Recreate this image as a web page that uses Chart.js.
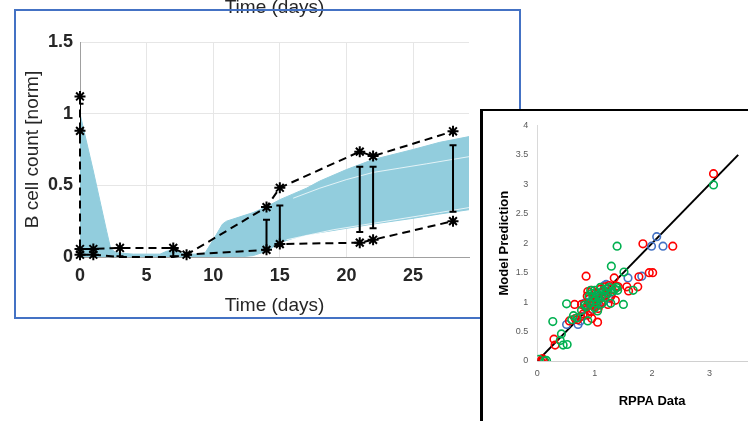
<!DOCTYPE html>
<html>
<head>
<meta charset="utf-8">
<script src="https://cdn.jsdelivr.net/npm/chart.js@4.4.0/dist/chart.umd.min.js"></script>
<style>
  html, body { margin: 0; padding: 0; background: #fff; }
  body { width: 748px; height: 421px; position: relative; overflow: hidden; font-family: "Liberation Sans", Arial, sans-serif; }
  #timeChart { position: absolute; left: 0; top: -10px; }
  #timeFrame { position: absolute; left: 14px; top: 9px; width: 503px; height: 306px; border: 2px solid #4472c4; pointer-events: none; }
  #rppaWrap { position: absolute; left: 480px; top: 109px; width: 265px; height: 310px; border-left: 3px solid #000; border-top: 2px solid #000; background: #fff; overflow: hidden; }
  #rppaChart { position: absolute; left: 0; top: 0; }
</style>
</head>
<body>
<canvas id="timeChart" width="520" height="340"></canvas>
<div id="timeFrame"></div>
<div id="rppaWrap"><canvas id="rppaChart" width="310" height="310"></canvas></div>
<script>
// ---- B cell time course ----
// simulated trajectories, drawn as a band between their envelopes
const bandDays = [0, 1, 2, 2.3, 2.7, 4, 5, 6, 6.5, 7, 7.5, 8, 9, 9.4, 10, 10.7, 11, 12, 13, 14, 15, 16, 17, 18, 20, 22, 25, 27, 29.2];
const bandHigh = [1.0, 0.6, 0.18, 0.06, 0.03, 0.02, 0.02, 0.02, 0.04, 0.05, 0.03, 0.02, 0.02, 0.03, 0.12, 0.23, 0.25, 0.28, 0.31, 0.35, 0.40, 0.44, 0.48, 0.53, 0.61, 0.68, 0.75, 0.80, 0.84];
const bandLow = [0, 0, 0, 0, 0, 0, 0, 0, 0, 0, 0, 0, 0, 0, 0, 0, 0, 0, 0.01, 0.04, 0.10, 0.13, 0.155, 0.17, 0.20, 0.23, 0.27, 0.30, 0.33];

// gaps between trajectories
const gapUpperDays = [16, 18, 20, 22, 24, 26, 29.2];
const gapUpper = [0.41, 0.48, 0.54, 0.59, 0.62, 0.65, 0.70];
const gapLowerDays = [15.5, 17, 19, 21, 23, 25, 27, 29.2];
const gapLower = [0.12, 0.15, 0.19, 0.22, 0.25, 0.28, 0.31, 0.345];

// measured max / min
const maxDays = [0, 0, 1, 3, 7, 8, 14, 15, 21, 22, 28];
const maxVals = [1.12, 0.056, 0.056, 0.063, 0.063, 0.016, 0.348, 0.483, 0.735, 0.704, 0.877];
const minDays = [0, 1, 3, 7, 8, 14, 15, 21, 22, 28];
const minVals = [0.016, 0.016, 0.0, 0.0, 0.016, 0.05, 0.09, 0.10, 0.12, 0.25];

// individual measurements
const starDays = [0, 0, 0, 0, 1, 1, 3, 7, 8, 14, 14, 15, 15, 21, 21, 22, 22, 28, 28];
const starVals = [1.12, 0.88, 0.056, 0.016, 0.056, 0.016, 0.063, 0.063, 0.016, 0.348, 0.05, 0.483, 0.09, 0.735, 0.10, 0.704, 0.12, 0.877, 0.25];

// error bars
const errDays = [0, 3, 7, 14, 15, 21, 22, 28];
const errLow = [0.89, 0.005, 0.005, 0.05, 0.08, 0.175, 0.20, 0.315];
const errHigh = [1.07, 0.063, 0.063, 0.26, 0.36, 0.63, 0.63, 0.78];

// ---- RPPA vs model ----
const redRppa = [3.07, 1.84, 2.36, 0.85, 1.34, 1.77, 1.95, 2.01, 1.75, 1.56, 1.41, 1.59, 1.36, 1.23, 1.05, 0.65, 0.77, 0.56, 0.66, 0.29, 0.31, 0.09, 0.06, 0.11,
  0.88, 0.95, 1.02, 1.10, 1.18, 1.25, 1.30, 0.90, 0.98, 1.05, 1.12, 1.20, 0.85, 0.92, 1.00, 1.08, 0.80, 0.88, 0.75, 0.70, 0.95, 1.15, 0.82, 1.28, 0.93, 1.38, 0.87, 1.06, 0.94];
const redModel = [3.18, 1.99, 1.95, 1.44, 1.41, 1.43, 1.50, 1.50, 1.26, 1.26, 1.26, 1.19, 1.03, 0.96, 0.66, 0.96, 0.96, 0.68, 0.72, 0.37, 0.27, 0.04, 0.0, 0.01,
  1.18, 1.20, 1.15, 1.22, 1.26, 1.28, 1.22, 1.05, 1.00, 1.05, 1.08, 1.12, 0.90, 0.84, 0.92, 0.95, 0.80, 0.78, 0.75, 0.70, 0.72, 1.18, 0.95, 1.10, 0.95, 1.27, 1.10, 0.89, 0.84];
const greenRppa = [3.07, 1.39, 1.29, 1.51, 1.67, 1.50, 0.51, 0.27, 0.88, 0.42, 0.40, 0.45, 0.52, 0.03, 0.13, 0.16, 0.60, 0.63, 0.69, 0.77, 0.83,
  0.90, 0.95, 1.00, 1.05, 1.10, 1.15, 1.20, 1.25, 1.30, 1.35, 0.92, 0.98, 1.03, 1.08, 1.12, 1.18, 0.85, 1.00, 1.05, 1.28, 1.38, 1.40, 0.97, 1.22, 1.12, 0.93];
const greenModel = [2.99, 1.95, 1.61, 1.51, 1.20, 0.96, 0.97, 0.67, 0.68, 0.46, 0.35, 0.27, 0.28, 0.03, 0.0, 0.01, 0.70, 0.77, 0.73, 0.86, 0.95,
  1.10, 1.15, 1.20, 1.12, 1.25, 1.20, 1.22, 1.25, 1.18, 1.22, 0.98, 1.02, 0.98, 1.05, 1.10, 1.08, 0.92, 0.90, 0.85, 0.98, 1.25, 1.20, 1.08, 1.15, 0.97, 1.20];
const blueRppa = [2.08, 1.99, 2.19, 1.58, 1.82, 0.51, 0.71, 1.20, 1.26, 0.80, 0.90, 1.00, 1.10, 0.95, 1.15, 1.05, 0.75, 1.30, 0.82, 1.17];
const blueModel = [2.11, 1.95, 1.95, 1.41, 1.44, 0.62, 0.62, 1.30, 1.06, 0.76, 1.00, 1.10, 1.15, 0.88, 1.00, 0.95, 0.68, 1.15, 0.98, 1.28];
const fitX = [0, 3.5];
const fitY = [0, 3.5];

const pts = (xs, ys) => xs.map((v, i) => ({ x: v, y: ys[i] }));
const plainTick = (v) => String(v);

const BAND = '#92cddd';
const INK = '#262626';

const errorBars = {
    id: 'errorBars',
    afterDatasetsDraw(chart) {
        const { ctx, chartArea, scales: { x, y } } = chart;
        ctx.save();
        ctx.beginPath();
        ctx.rect(chartArea.left, chartArea.top, chartArea.width, chartArea.height);
        ctx.clip();
        ctx.strokeStyle = '#000';
        ctx.lineWidth = 2;
        errDays.forEach((d, i) => {
            const px = x.getPixelForValue(d);
            const top = y.getPixelForValue(errHigh[i]);
            const bot = y.getPixelForValue(errLow[i]);
            ctx.beginPath();
            ctx.moveTo(px, top); ctx.lineTo(px, bot);
            ctx.moveTo(px - 3.5, top); ctx.lineTo(px + 3.5, top);
            ctx.moveTo(px - 3.5, bot); ctx.lineTo(px + 3.5, bot);
            ctx.stroke();
        });
        ctx.restore();
    }
};

new Chart(document.getElementById('timeChart'), {
    type: 'line',
    data: {
        datasets: [
            { data: pts(starDays, starVals), showLine: false, pointStyle: 'star', pointRadius: 5.5, borderColor: '#000', borderWidth: 2, clip: false, order: 0 },
            { data: pts(maxDays, maxVals), borderColor: '#000', borderWidth: 2, borderDash: [8, 5], pointRadius: 0, fill: false, clip: false, order: 1 },
            { data: pts(minDays, minVals), borderColor: '#000', borderWidth: 2, borderDash: [8, 5], pointRadius: 0, fill: false, clip: false, order: 1 },
            { data: pts(gapUpperDays, gapUpper), borderColor: 'rgba(255,255,255,0.75)', borderWidth: 1, pointRadius: 0, fill: false, order: 2 },
            { data: pts(gapLowerDays, gapLower), borderColor: 'rgba(255,255,255,0.75)', borderWidth: 1, pointRadius: 0, fill: false, order: 2 },
            { data: pts(bandDays, bandHigh), borderColor: BAND, backgroundColor: BAND, borderWidth: 1, pointRadius: 0, fill: '+1', order: 3 },
            { data: pts(bandDays, bandLow), borderColor: BAND, borderWidth: 1, pointRadius: 0, fill: false, order: 4 }
        ]
    },
    options: {
        responsive: false,
        animation: false,
        layout: { padding: { left: 10, right: 51, top: 0, bottom: 12.6 } },
        plugins: {
            legend: { display: false },
            tooltip: { enabled: false },
            title: {
                display: true, text: 'Time (days)', fullSize: false, color: INK,
                font: { family: 'Liberation Sans', size: 19, weight: 'normal' },
                padding: { top: 6.5, bottom: 22.7 }
            }
        },
        scales: {
            x: {
                type: 'linear', min: 0, max: 29.2,
                ticks: { stepSize: 5, includeBounds: false, padding: 8, color: INK, callback: plainTick, font: { family: 'Liberation Sans', size: 18, weight: 'bold' } },
                grid: { color: '#e6e6e6', drawTicks: false },
                border: { color: '#a0a0a0' },
                title: { display: true, text: 'Time (days)', color: INK, font: { family: 'Liberation Sans', size: 19 }, padding: { top: 0, bottom: 0 } }
            },
            y: {
                min: 0, max: 1.5,
                afterFit: (scale) => { scale.width = 70; },
                ticks: { stepSize: 0.5, padding: 7, color: INK, callback: plainTick, font: { family: 'Liberation Sans', size: 18, weight: 'bold' } },
                grid: { color: '#e6e6e6', drawTicks: false },
                border: { color: '#a0a0a0' },
                title: { display: true, text: 'B cell count [norm]', color: INK, font: { family: 'Liberation Sans', size: 19 }, padding: { top: 11.6, bottom: 0 } }
            }
        }
    },
    plugins: [errorBars]
});

const ring = (color) => ({ showLine: false, pointStyle: 'circle', pointRadius: 3.8, borderColor: color, backgroundColor: 'rgba(0,0,0,0)', borderWidth: 1.6 });

new Chart(document.getElementById('rppaChart'), {
    type: 'scatter',
    data: {
        datasets: [
            { ...ring('#00b050'), data: pts(greenRppa, greenModel), order: 0 },
            { ...ring('#ff0000'), data: pts(redRppa, redModel), order: 1 },
            { ...ring('#4472c4'), data: pts(blueRppa, blueModel), order: 2 },
            { data: pts(fitX, fitY), showLine: true, borderColor: '#000', borderWidth: 2, pointRadius: 0, order: 3 }
        ]
    },
    options: {
        responsive: false,
        animation: false,
        layout: { padding: { left: 0, right: 26.1, top: 10.7, bottom: 11.5 } },
        plugins: { legend: { display: false }, tooltip: { enabled: false } },
        scales: {
            x: {
                min: 0, max: 4,
                ticks: { stepSize: 1, padding: 7.3, color: '#595959', callback: plainTick, font: { family: 'Liberation Sans', size: 9 } },
                grid: { display: false, drawTicks: false },
                border: { color: '#d0d0d0' },
                title: { display: true, text: 'RPPA Data', color: '#000', font: { family: 'Liberation Sans', size: 13, weight: 'bold' }, padding: { top: 7.5, bottom: 0 } }
            },
            y: {
                min: 0, max: 4,
                afterFit: (scale) => { scale.width = 54.3; },
                ticks: { stepSize: 0.5, padding: 9, color: '#595959', callback: plainTick, font: { family: 'Liberation Sans', size: 9 } },
                grid: { display: false, drawTicks: false },
                border: { color: '#d9d9d9' },
                title: { display: true, text: 'Model Prediction', color: '#000', font: { family: 'Liberation Sans', size: 13, weight: 'bold' }, padding: { top: 13.9, bottom: 0 } }
            }
        }
    }
});
</script>
</body>
</html>
